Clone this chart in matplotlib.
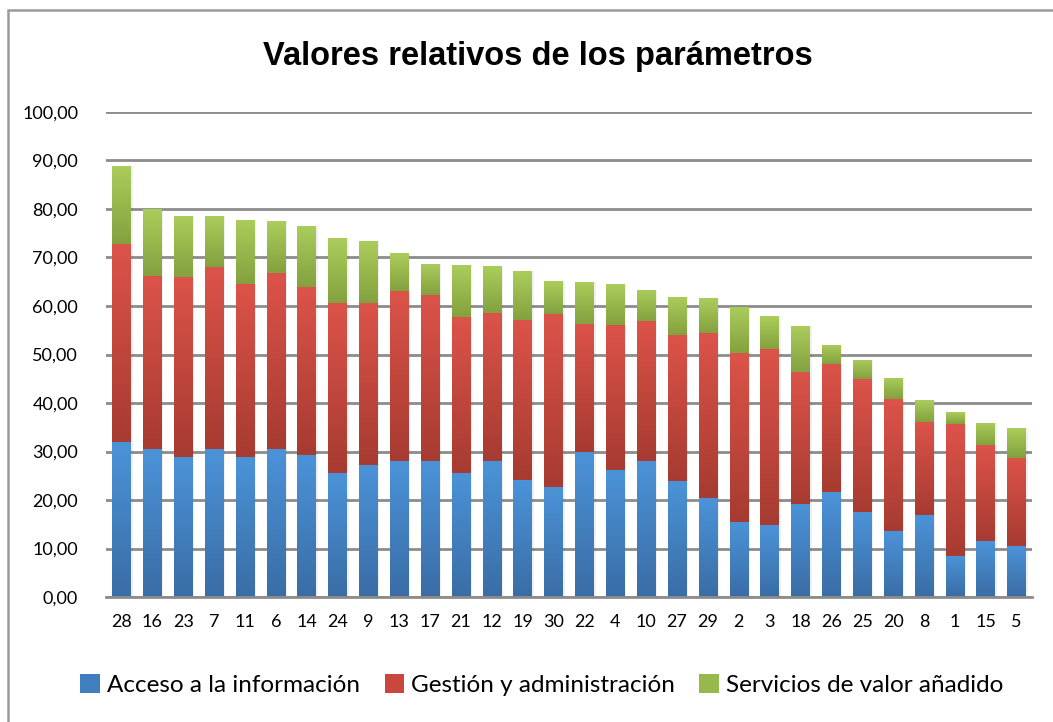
import numpy as np
import matplotlib
matplotlib.use("Agg")
import matplotlib.pyplot as plt
from matplotlib.patches import Rectangle, Patch
from matplotlib.colors import LinearSegmentedColormap

categories = ["28", "16", "23", "7", "11", "6", "14", "24", "9", "13", "17", "21", "12", "19", "30",
              "22", "4", "10", "27", "29", "2", "3", "18", "26", "25", "20", "8", "1", "15", "5"]
acceso = [32.0, 30.5, 28.9, 30.5, 28.9, 30.5, 29.3, 25.5, 27.2, 28.0, 28.0, 25.6, 28.0, 24.1, 22.7,
          29.9, 26.2, 28.0, 23.9, 20.4, 15.5, 14.8, 19.2, 21.6, 17.5, 13.6, 16.9, 8.5, 11.5, 10.5]
gestion_top = [72.8, 66.2, 66.0, 68.0, 64.5, 66.8, 63.9, 60.6, 60.6, 63.1, 62.3, 57.7, 58.6, 57.1, 58.4,
               56.3, 56.1, 56.9, 54.0, 54.4, 50.3, 51.1, 46.4, 48.0, 44.9, 40.8, 36.1, 35.7, 31.3, 28.7]
total = [88.9, 80.1, 78.6, 78.6, 77.7, 77.5, 76.5, 74.0, 73.4, 70.9, 68.7, 68.5, 68.2, 67.2, 65.2,
         64.9, 64.5, 63.3, 61.9, 61.6, 59.8, 57.9, 55.9, 52.0, 48.9, 45.2, 40.6, 38.1, 35.9, 34.8]
gestion = [g - a for g, a in zip(gestion_top, acceso)]
servicios = [t - g for t, g in zip(total, gestion_top)]
series_names = ["Acceso a la información", "Gestión y administración", "Servicios de valor añadido"]
yticks = list(range(0, 101, 10))

# colours: (top light, bottom dark)
grad = {
    0: ("#4b93d8", "#3a6da6"),
    1: ("#dc5349", "#a73b31"),
    2: ("#abcd5b", "#84a13f"),
}
legend_col = ["#3f7fc0", "#c9473d", "#97b84c"]

fig = plt.figure(figsize=(10.53, 7.22), dpi=100)
fig.patch.set_facecolor("white")
# outer chart frame
fig.patches.append(Rectangle((8 / 1053, -0.05), 1.2, 1 - 10 / 722 + 0.05, transform=fig.transFigure,
                             fill=False, edgecolor="#9a9a9a", linewidth=1.8, zorder=0))

ax = fig.add_axes([106 / 1053, 1 - 597 / 722, (1032 - 106) / 1053, (597 - 112) / 722])
x = np.arange(len(categories))
width = 0.6
bottoms = np.zeros(len(categories))
for i, vals in enumerate([acceso, gestion, servicios]):
    bars = ax.bar(x, vals, width, bottom=bottoms, color=legend_col[i], label=series_names[i],
                  zorder=3, linewidth=0)
    cmap = LinearSegmentedColormap.from_list("g%d" % i, [grad[i][1], grad[i][0]])
    for b in bars:
        x0, y0 = b.get_x(), b.get_y()
        w, h = b.get_width(), b.get_height()
        img = np.linspace(0, 1, 64).reshape(-1, 1)
        im = ax.imshow(img, cmap=cmap, origin="lower", aspect="auto",
                       extent=[x0, x0 + w, y0, y0 + h], zorder=3.5, interpolation="bilinear")
        im.set_clip_path(b)
        # soft shadow to the right
        ax.add_patch(Rectangle((x0 + w, y0), 0.06, h, color="#000000", alpha=0.06, zorder=2.5, linewidth=0))
    bottoms = bottoms + np.array(vals)

ax.set_xlim(-0.5, len(categories) - 0.5)
ax.set_ylim(0, 100)
ax.set_yticks(yticks)
ax.set_yticklabels(["%d,00" % v for v in yticks])
ax.set_xticks(x)
ax.set_xticklabels(categories)
for s in ["top", "right", "left"]:
    ax.spines[s].set_visible(False)
ax.spines["bottom"].set_color("#8c8c8c")
ax.spines["bottom"].set_linewidth(2)
ax.spines["bottom"].set_zorder(4)
ax.grid(axis="y", color="#8c8c8c", linewidth=2, zorder=1)
ax.set_axisbelow(True)
ax.tick_params(axis="both", length=0, labelsize=13, colors="black")
ax.tick_params(axis="y", pad=20)
ax.tick_params(axis="x", pad=12)
for lab in ax.get_xticklabels() + ax.get_yticklabels():
    lab.set_fontfamily("Lato")

fig.text(538 / 1053, 1 - 57 / 722, "Valores relativos de los parámetros", ha="center", va="center",
         fontsize=23.5, fontweight="bold", family="Liberation Sans")

handles = [Patch(facecolor=legend_col[i], edgecolor="none") for i in range(3)]
fig.legend(handles, series_names, loc="center", bbox_to_anchor=(542 / 1053, 1 - 685 / 722), ncol=3,
           frameon=False, prop={"family": "Lato", "size": 17.5}, handlelength=0.8, handleheight=0.8,
           handletextpad=0.3, columnspacing=1.0)

fig.savefig("out.png", dpi=100)
